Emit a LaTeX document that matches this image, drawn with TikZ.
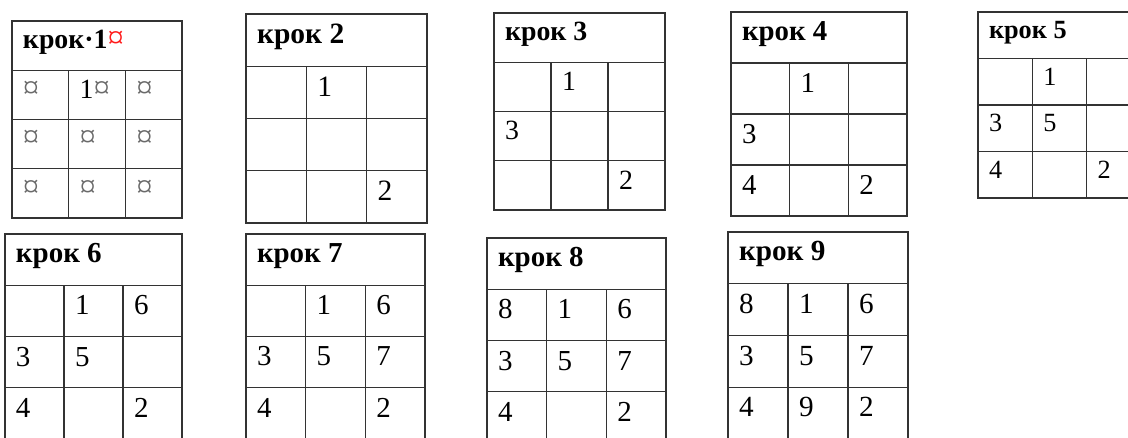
\documentclass[tikz,border=0pt]{standalone}
\usepackage{fontspec}
\setmainfont{Liberation Serif}
\definecolor{linegray}{HTML}{333333}
\definecolor{markgray}{HTML}{6A6A6A}
\definecolor{markred}{HTML}{FF1A1A}
\newcommand\magtable[6]{% name, left, top, width, row height, title
  \pgfmathsetmacro\fs{0.565*#5}%
  \pgfmathsetmacro\ms{0.66*#5}%
  \draw[gridline] (#2,#3) rectangle ({#2+#4},{#3+4*#5});
  \foreach \k in {1,2,3} \draw[gridline] (#2,{#3+\k*#5}) -- ({#2+#4},{#3+\k*#5});
  \foreach \k in {1,2} \draw[gridline] ({#2+\k*#4/3},{#3+#5}) -- ({#2+\k*#4/3},{#3+4*#5});
  \node[txt, font={\fontsize{\fs}{\fs}\selectfont\bfseries}] (#1-h) at ({#2+11},{#3+0.56*#5}) {#6};
  \foreach \r in {1,2,3} \foreach \c in {1,2,3}
    \coordinate (#1-\r\c) at ({#2+(\c-1)*#4/3+11},{#3+\r*#5+0.575*#5});
}
\newcommand\cur{{\fontsize{\ms}{\ms}\selectfont ¤}}
\begin{document}
\begin{tikzpicture}[x=1pt,y=-1pt,
  gridline/.style={draw=linegray,line width=1.1pt},
  txt/.style={anchor=base west,inner sep=0pt,outer sep=0pt},
  num/.style={txt,font={\fontsize{\fs}{\fs}\selectfont}},
  cellmark/.style={num,text=markgray}]
\useasboundingbox[fill=white] (0,0) rectangle (1128,437);

% step 1
\magtable{t1}{12}{21}{170}{49.25}{крок·1\textcolor{markred}{\mdseries\cur}}
\node[cellmark] (t1-n11) at (t1-11) {\cur};
\node[num]  (t1-n12) at (t1-12) {1\textcolor{markgray}{\cur}};
\node[cellmark] (t1-n13) at (t1-13) {\cur};
\node[cellmark] (t1-n21) at (t1-21) {\cur};
\node[cellmark] (t1-n22) at (t1-22) {\cur};
\node[cellmark] (t1-n23) at (t1-23) {\cur};
\node[cellmark] (t1-n31) at (t1-31) {\cur};
\node[cellmark] (t1-n32) at (t1-32) {\cur};
\node[cellmark] (t1-n33) at (t1-33) {\cur};

% step 2
\magtable{t2}{246}{14}{181}{52.25}{крок 2}
\node[num] (t2-n12) at (t2-12) {1};
\node[num] (t2-n33) at (t2-33) {2};

% step 3
\magtable{t3}{494}{13}{171}{49.25}{крок 3}
\node[num] (t3-n12) at (t3-12) {1};
\node[num] (t3-n21) at (t3-21) {3};
\node[num] (t3-n33) at (t3-33) {2};

% step 4
\magtable{t4}{731}{12}{176}{51}{крок 4}
\node[num] (t4-n12) at (t4-12) {1};
\node[num] (t4-n21) at (t4-21) {3};
\node[num] (t4-n31) at (t4-31) {4};
\node[num] (t4-n33) at (t4-33) {2};

% step 5
\magtable{t5}{978}{12}{163}{46.5}{крок 5}
\node[num] (t5-n12) at (t5-12) {1};
\node[num] (t5-n21) at (t5-21) {3};
\node[num] (t5-n22) at (t5-22) {5};
\node[num] (t5-n31) at (t5-31) {4};
\node[num] (t5-n33) at (t5-33) {2};

% step 6
\magtable{t6}{5}{234}{177}{51.3}{крок 6}
\node[num] (t6-n12) at (t6-12) {1};
\node[num] (t6-n13) at (t6-13) {6};
\node[num] (t6-n21) at (t6-21) {3};
\node[num] (t6-n22) at (t6-22) {5};
\node[num] (t6-n31) at (t6-31) {4};
\node[num] (t6-n33) at (t6-33) {2};

% step 7
\magtable{t7}{246}{234}{179}{51.2}{крок 7}
\node[num] (t7-n12) at (t7-12) {1};
\node[num] (t7-n13) at (t7-13) {6};
\node[num] (t7-n21) at (t7-21) {3};
\node[num] (t7-n22) at (t7-22) {5};
\node[num] (t7-n23) at (t7-23) {7};
\node[num] (t7-n31) at (t7-31) {4};
\node[num] (t7-n33) at (t7-33) {2};

% step 8
\magtable{t8}{487}{238}{179}{51.3}{крок 8}
\node[num] (t8-n11) at (t8-11) {8};
\node[num] (t8-n12) at (t8-12) {1};
\node[num] (t8-n13) at (t8-13) {6};
\node[num] (t8-n21) at (t8-21) {3};
\node[num] (t8-n22) at (t8-22) {5};
\node[num] (t8-n23) at (t8-23) {7};
\node[num] (t8-n31) at (t8-31) {4};
\node[num] (t8-n33) at (t8-33) {2};

% step 9
\magtable{t9}{728}{232}{180}{51.7}{крок 9}
\node[num] (t9-n11) at (t9-11) {8};
\node[num] (t9-n12) at (t9-12) {1};
\node[num] (t9-n13) at (t9-13) {6};
\node[num] (t9-n21) at (t9-21) {3};
\node[num] (t9-n22) at (t9-22) {5};
\node[num] (t9-n23) at (t9-23) {7};
\node[num] (t9-n31) at (t9-31) {4};
\node[num] (t9-n32) at (t9-32) {9};
\node[num] (t9-n33) at (t9-33) {2};
\end{tikzpicture}
\end{document}
